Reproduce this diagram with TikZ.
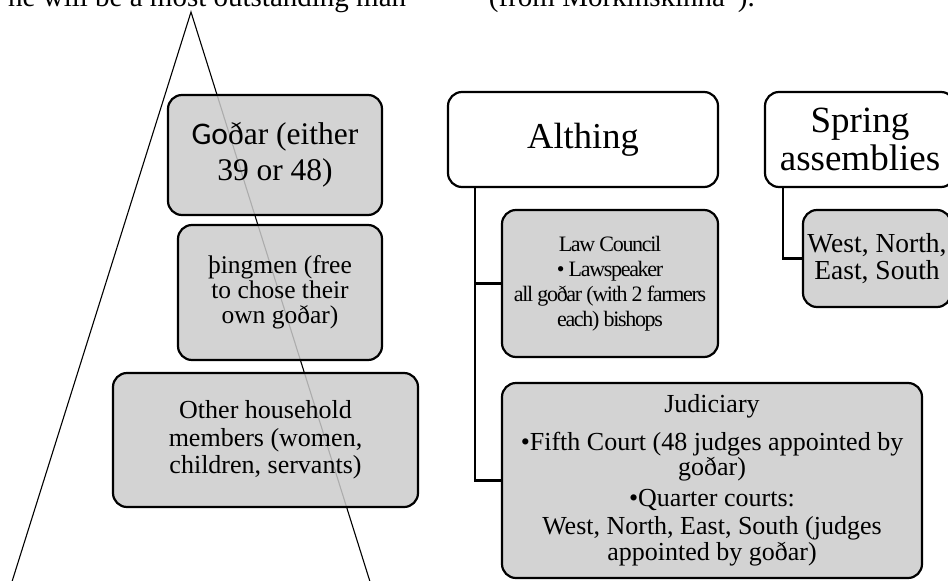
\documentclass[tikz,border=0pt]{standalone}
\usepackage{fontspec}
\setmainfont{Liberation Serif}
\setsansfont{Carlito}
\newfontfamily\narrowfont[LetterSpace=-6.0]{Liberation Serif}
\usepackage{tikz}
\usetikzlibrary{positioning}
\definecolor{boxgray}{RGB}{211,211,211}
\definecolor{boxgrayd}{RGB}{203,203,203}

\begin{document}
\begin{tikzpicture}[x=1pt,y=-1pt]

\tikzset{box/.style={
		draw,
		line width=2.2pt,
		rounded corners=14pt,
		align=center,
		inner sep=1pt,
		minimum width=#1
	},
	box/.default=200pt,
	gray box/.style={box=#1, fill=boxgray},
	see through box/.style={box=#1, fill=boxgrayd, fill opacity=0.85, text opacity=1},
	white box/.style={box=#1, fill=white},
	link/.style={line width=2.2pt}
}

\useasboundingbox (0,0) rectangle (948,581);
\clip (0,0) rectangle (948,581);

\node[anchor=base west, inner sep=0pt, font=\fontsize{29}{34}\selectfont] (quote) at (8,6)
	{he will be a most outstanding man”\hspace{70pt}(from Morkinskinna”).};

% pyramid
\coordinate (apex) at (191,12);
\coordinate (base left) at (10,588);
\coordinate (base right) at (372,588);
\draw[line width=1.1pt] (base left) -- (apex) -- (base right);

%|households|
\node[see through box=214pt, minimum height=120pt, font=\fontsize{31.5}{36}\selectfont] (godar) at (275,155)
	{{\sffamily Go}ðar (either\\39 or 48)};
\node[see through box=204pt, minimum height=135pt, font=\fontsize{25.5}{25}\selectfont] (thingmen) at (280,292.5)
	{þingmen (free\\to chose their\\own goðar)};
\node[see through box=305pt, minimum height=134pt, font=\fontsize{26}{27.5}\selectfont] (household) at (265.5,440)
	{Other household\\members (women,\\children, servants)};

%|assemblies|
\node[white box=270pt, minimum height=95pt, font=\fontsize{36.5}{40}\selectfont] (althing) at (583,139.5)
	{Althing};
\node[gray box=216pt, minimum height=147pt, font=\narrowfont\fontsize{22}{25}\selectfont] (lawcouncil) at (610,283.5)
	{Law Council\\• Lawspeaker\\all goðar (with 2 farmers\\each) bishops};
\node[gray box=420pt, minimum height=195pt, font=\fontsize{26}{25.5}\selectfont] (judiciary) at (712,480.5)
	{Judiciary\\[12pt]•Fifth Court (48 judges appointed by\\goðar)\\[5pt]•Quarter courts:\\[3pt]West, North, East, South (judges\\appointed by goðar)};

\node[white box=190pt, minimum height=95pt, font=\fontsize{37}{38}\selectfont] (spring) at (860,139.5)
	{Spring\\assemblies};
\node[gray box=148pt, minimum height=97pt, font=\fontsize{27.5}{27}\selectfont] (quarters) at (877,258.5)
	{West, North,\\East, South};

\draw[link] ([xshift=28pt]althing.south west) |- (lawcouncil.west);
\draw[link] ([xshift=28pt]althing.south west) |- (judiciary.west);
\draw[link] ([xshift=19pt]spring.south west) |- (quarters.west);

\end{tikzpicture}
\end{document}
